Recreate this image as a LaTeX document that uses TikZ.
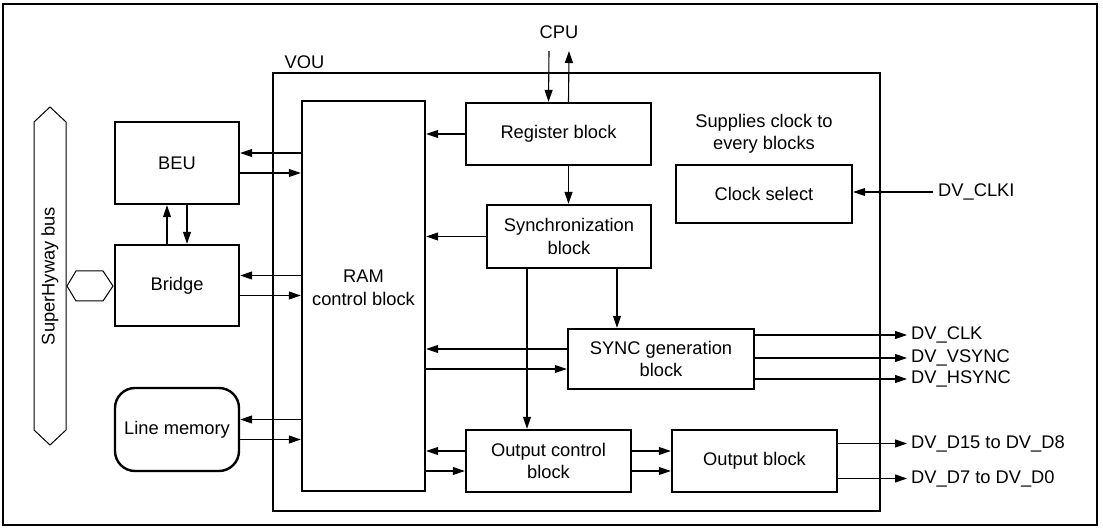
\documentclass[tikz,border=0pt]{standalone}
\usepackage{fontspec}
\setmainfont{Liberation Sans}
\usetikzlibrary{arrows.meta,positioning,calc}

\begin{document}
\begin{tikzpicture}[
    x=1pt, y=-1pt,
    every node/.style={font=\fontsize{18.3}{22.5}\selectfont},
    blk/.style={draw, line width=2.4pt, inner sep=0pt, align=center},
    arr/.style={line width=1.1pt, -{Triangle[length=12pt, width=8pt]}},
    sig/.style={anchor=west, inner sep=4pt},
    bus/.style={line width=1pt}
]
    \useasboundingbox (0,0) rectangle (1103,529);
    \draw[line width=2.6pt] (3,4) rectangle (1097,525);

    % VOU frame
    \node[blk, minimum width=607pt, minimum height=438pt] (vou) at (576.5,292) {};
    \node (voulbl) at (304.5,62) {VOU};

    % SuperHyway bus
    \draw[bus] (50,107) -- (66,122) -- (66,430) -- (50,445) -- (34,430) -- (34,122) -- cycle;
    \node[rotate=90] (buslbl) at (50,276) {SuperHyway bus};
    \draw[bus] (67,286) -- (76,271) -- (103,271) -- (113,286) -- (103,301) -- (76,301) -- cycle;

    % Outside blocks
    \node[blk, minimum width=124pt, minimum height=82pt] (beu) at (177,163) {BEU};
    \node[blk, minimum width=124pt, minimum height=81pt] (bridge) at (177,285.5) {Bridge};
    \node[blk, minimum width=124pt, minimum height=83pt, rounded corners=20pt] (linemem) at (177,429.5) {Line memory};

    % VOU blocks
    \node[blk, minimum width=123pt, minimum height=390pt] (ram) at (363.5,296) {};
    \node[align=center] (ramtxt) at (363.5,288) {RAM\\control block};
    \node[blk, minimum width=185pt, minimum height=62pt] (reg) at (558.5,134) {Register block};
    \node[blk, minimum width=164pt, minimum height=63pt] (sync) at (569,236.5) {Synchronization\\block};
    \node[blk, minimum width=176pt, minimum height=58pt] (clk) at (764,194) {Clock select};
    \node[align=center] (clknote) at (764,134) {Supplies clock to\\every blocks};
    \node[blk, minimum width=186pt, minimum height=60pt] (syncgen) at (661,359) {SYNC generation\\block};
    \node[blk, minimum width=165pt, minimum height=62pt] (outctl) at (548.5,461) {Output control\\block};
    \node[blk, minimum width=165pt, minimum height=62pt] (outblk) at (754.5,461) {Output block};

    % Signals
    \node (cpu) at (559,32) {CPU};
    \node[sig, inner sep=5pt] (dvclki) at (933,192) {DV\_CLKI};
    \node[sig] (dvclk) at (907,335) {DV\_CLK};
    \node[sig] (dvvsync) at (907,358) {DV\_VSYNC};
    \node[sig] (dvhsync) at (907,379) {DV\_HSYNC};
    \node[sig] (dvdh) at (907,443.5) {DV\_D15 to DV\_D8};
    \node[sig] (dvdl) at (907,478.5) {DV\_D7 to DV\_D0};

    % Arrows to the RAM control block
    \foreach \n in {beu, bridge, linemem} {
        \draw[arr] ([yshift=10pt]\n.east -| ram.west) -- ([yshift=10pt]\n.east);
        \draw[arr] ([yshift=-10pt]\n.east) -- ([yshift=-10pt]\n.east -| ram.west);
    }
    \foreach \n in {syncgen, outctl} {
        \draw[arr] ([yshift=10pt]\n.west) -- ([yshift=10pt]\n.west -| ram.east);
        \draw[arr] ([yshift=-10pt]\n.west -| ram.east) -- ([yshift=-10pt]\n.west);
    }
    \draw[arr] (reg.west) -- (reg.west -| ram.east);
    \draw[arr] (sync.west) -- (sync.west -| ram.east);

    % BEU / Bridge
    \draw[arr] ([xshift=-10pt]bridge.north) -- ([xshift=-10pt]beu.south);
    \draw[arr] ([xshift=10pt]beu.south) -- ([xshift=10pt]bridge.north);

    % CPU and control path
    \draw[arr] ([xshift=-10pt, yshift=-9pt]cpu.south) -- ([xshift=-10pt]reg.north);
    \draw[arr] ([xshift=10pt]reg.north) -- ([xshift=10pt, yshift=-9pt]cpu.south);
    \draw[arr] ([xshift=10pt]reg.south) -- ([xshift=10pt]reg.south |- sync.north);
    \draw[arr] ([xshift=48pt]sync.south) -- ([xshift=48pt]sync.south |- syncgen.north);
    \draw[arr] ([xshift=-42pt]sync.south) -- ([xshift=-42pt]sync.south |- outctl.north);
    \draw[arr] ([yshift=10pt]outctl.east) -- ([yshift=10pt]outctl.east -| outblk.west);
    \draw[arr] ([yshift=-10pt]outctl.east) -- ([yshift=-10pt]outctl.east -| outblk.west);

    % Clock input and outputs
    \draw[arr] (dvclki.west) -- (dvclki.west -| clk.east);
    \foreach \s in {dvclk, dvvsync, dvhsync} {
        \draw[arr] (syncgen.east |- \s.west) -- (\s.west);
    }
    \foreach \s in {dvdh, dvdl} {
        \draw[arr] (outblk.east |- \s.west) -- (\s.west);
    }
\end{tikzpicture}
\end{document}
